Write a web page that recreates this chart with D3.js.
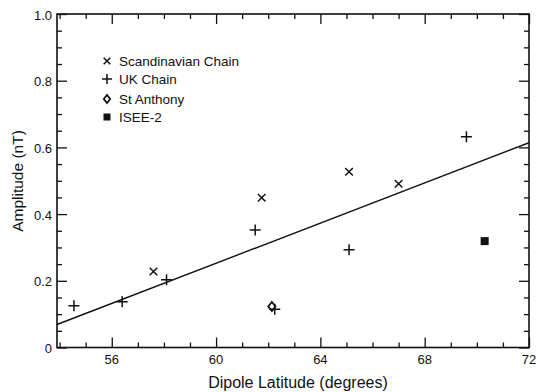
<!DOCTYPE html>
<html>
<head>
<meta charset="utf-8">
<script src="https://d3js.org/d3.v7.min.js"></script>
<style>
  body { margin: 0; background: #fff; }
  svg { display: block; font-family: "Liberation Sans", Arial, sans-serif; }
</style>
</head>
<body>
<div id="chart"></div>
<script>
// Data
const scandinavian = [[57.6, 0.228], [61.75, 0.449], [65.1, 0.527], [67.0, 0.491]];
const ukChain = [[54.55, 0.125], [56.4, 0.137], [58.1, 0.203], [61.5, 0.352],
                 [62.25, 0.115], [65.1, 0.293], [69.6, 0.632]];
const stAnthony = [[62.14, 0.123]];
const isee2 = [[70.3, 0.319]];
const fitLine = [[53.9, 0.069], [72, 0.614]];

const xTicks = [56, 60, 64, 68, 72];
const yTicks = [0, 0.2, 0.4, 0.6, 0.8, 1.0];
const legendItems = ['Scandinavian Chain', 'UK Chain', 'St Anthony', 'ISEE-2'];

const width = 538, height = 392;
const margin = { top: 14, right: 9, bottom: 44.5, left: 57 };

const svg = d3.select('#chart').append('svg')
    .attr('width', width)
    .attr('height', height);

const x = d3.scaleLinear().domain([53.9, 72]).range([margin.left, width - margin.right]);
const y = d3.scaleLinear().domain([0, 1]).range([height - margin.bottom, margin.top]);

const ink = '#111';
const plotBottom = y.range()[0], plotTop = y.range()[1];
const plotLeft = x.range()[0], plotRight = x.range()[1];

// frame
svg.append('rect')
    .attr('x', plotLeft).attr('y', plotTop)
    .attr('width', plotRight - plotLeft)
    .attr('height', plotBottom - plotTop)
    .attr('fill', 'none').attr('stroke', ink).attr('stroke-width', 1.6);

// ticks, pointing inward, mirrored on all sides
const xMinor = d3.range(54, 72, 1).filter(v => !xTicks.includes(v));
const yMinor = d3.range(0.05, 1, 0.05).filter(v => !yTicks.some(t => Math.abs(t - v) < 1e-6));

function tickAxis(axisFn, scale, values, size, transform) {
    svg.append('g')
        .attr('transform', transform)
        .call(axisFn(scale).tickValues(values).tickSize(size).tickFormat(''))
        .call(g => g.select('.domain').remove())
        .call(g => g.selectAll('line').attr('stroke', ink).attr('stroke-width', 1.3));
}
tickAxis(d3.axisTop, x, xTicks, 10, `translate(0,${plotBottom})`);
tickAxis(d3.axisTop, x, xMinor, 5, `translate(0,${plotBottom})`);
tickAxis(d3.axisBottom, x, xTicks, 10, `translate(0,${plotTop})`);
tickAxis(d3.axisBottom, x, xMinor, 5, `translate(0,${plotTop})`);
tickAxis(d3.axisRight, y, yTicks, 10, `translate(${plotLeft},0)`);
tickAxis(d3.axisRight, y, yMinor, 5, `translate(${plotLeft},0)`);
tickAxis(d3.axisLeft, y, yTicks, 10, `translate(${plotRight},0)`);
tickAxis(d3.axisLeft, y, yMinor, 5, `translate(${plotRight},0)`);

// tick labels
svg.append('g').selectAll('text')
    .data(xTicks).enter().append('text')
    .attr('x', d => x(d)).attr('y', plotBottom + 16)
    .attr('text-anchor', 'middle')
    .attr('font-size', 13).attr('fill', ink)
    .text(d => d);

svg.append('g').selectAll('text')
    .data(yTicks).enter().append('text')
    .attr('x', plotLeft - 5).attr('y', d => y(d) + 5.5)
    .attr('text-anchor', 'end')
    .attr('font-size', 13).attr('fill', ink)
    .text(d => d === 0 ? '0' : d.toFixed(1));

// axis titles
svg.append('text')
    .attr('x', 298).attr('y', 388)
    .attr('text-anchor', 'middle')
    .attr('font-size', 16).attr('fill', ink)
    .text('Dipole Latitude (degrees)');

svg.append('text')
    .attr('transform', `translate(23,181) rotate(-90)`)
    .attr('text-anchor', 'middle')
    .attr('font-size', 15.5).attr('fill', ink)
    .text('Amplitude (nT)');

// regression line
svg.append('path')
    .datum(fitLine)
    .attr('d', d3.line().x(d => x(d[0])).y(d => y(d[1])))
    .attr('fill', 'none').attr('stroke', ink).attr('stroke-width', 1.4);

// marker drawers
const markers = {
    cross: (g, s) => g.append('path').attr('d', `M${-s},${-s}L${s},${s}M${-s},${s}L${s},${-s}`)
        .attr('stroke', ink).attr('stroke-width', 1.5).attr('fill', 'none'),
    plus: (g, s) => g.append('path').attr('d', `M${-s},0L${s},0M0,${-s}L0,${s}`)
        .attr('stroke', ink).attr('stroke-width', 1.5).attr('fill', 'none'),
    diamond: (g, s) => g.append('path').attr('d', `M0,${-s}L${s * 0.8},0L0,${s}L${-s * 0.8},0Z`)
        .attr('stroke', ink).attr('stroke-width', 1.8).attr('fill', 'none'),
    square: (g, s) => g.append('rect').attr('x', -s).attr('y', -s).attr('width', 2 * s).attr('height', 2 * s)
        .attr('fill', ink)
};

function drawSeries(data, type, size) {
    data.forEach(d => {
        const g = svg.append('g').attr('transform', `translate(${x(d[0])},${y(d[1])})`);
        markers[type](g, size);
    });
}
drawSeries(scandinavian, 'cross', 3.8);
drawSeries(ukChain, 'plus', 5.5);
drawSeries(stAnthony, 'diamond', 4.5);
drawSeries(isee2, 'square', 4);

// legend
const legendTypes = [['cross', 3.3], ['plus', 5], ['diamond', 4], ['square', 3.5]];
const legendY = [61, 79, 99, 117];
legendItems.forEach((name, i) => {
    const g = svg.append('g').attr('transform', `translate(107,${legendY[i]})`);
    markers[legendTypes[i][0]](g, legendTypes[i][1]);
    svg.append('text')
        .attr('x', 119).attr('y', legendY[i] + 5)
        .attr('font-size', 13.5).attr('fill', ink)
        .text(name);
});
</script>
</body>
</html>
